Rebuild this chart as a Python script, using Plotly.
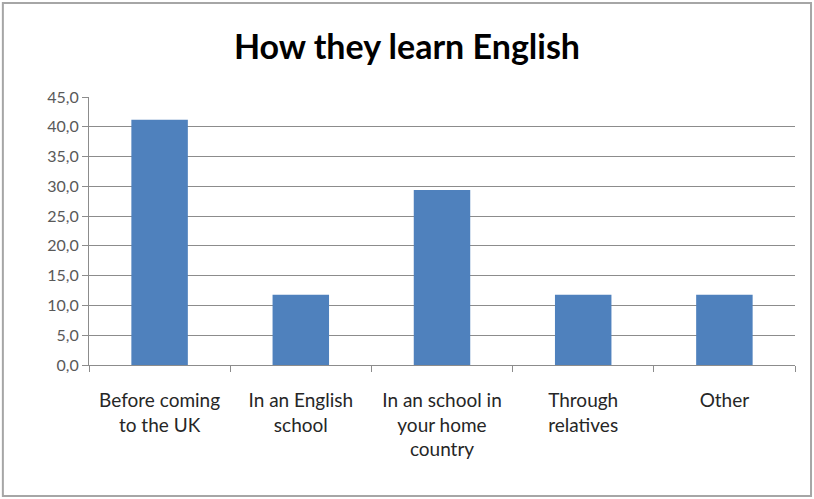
import plotly.graph_objects as go

# Survey results: share of respondents (%) by how they learn English
categories = [
    "Before coming<br>to the UK",
    "In an English<br>school",
    "In an school in<br>your home<br>country",
    "Through<br>relatives",
    "Other",
]
percentages = [41.2, 11.8, 29.4, 11.8, 11.8]
y_ticks = [0, 5, 10, 15, 20, 25, 30, 35, 40, 45]

bar_color = "#4F81BD"
grid_color = "#8C8C8C"
font_family = "Lato, 'Open Sans', sans-serif"

fig = go.Figure(
    go.Bar(
        x=categories,
        y=percentages,
        marker=dict(color=bar_color, line=dict(width=0)),
        hoverinfo="x+y",
    )
)

fig.update_layout(
    width=814,
    height=499,
    margin=dict(l=89, r=19, t=97, b=134),
    paper_bgcolor="white",
    plot_bgcolor="white",
    separators=", ",
    bargap=0.6,
    showlegend=False,
    title=dict(
        text="<b>How they learn English</b>",
        x=0.5,
        xanchor="center",
        y=0.905,
        yanchor="middle",
        font=dict(family=font_family, size=34, color="#000000"),
    ),
    font=dict(family=font_family),
    shapes=[
        dict(
            type="rect",
            xref="paper", yref="paper",
            x0=-0.122, x1=1.0227, y0=-0.489, y1=1.351,
            line=dict(color="#A6A6A6", width=2),
            fillcolor="rgba(0,0,0,0)",
            layer="below",
        )
    ],
)

fig.update_xaxes(
    type="category",
    showline=True,
    linecolor=grid_color,
    linewidth=1,
    ticks="outside",
    tickson="boundaries",
    ticklen=6,
    tickcolor=grid_color,
    ticklabelstandoff=18,
    tickfont=dict(family=font_family, size=19, color="#262626"),
    showgrid=False,
)

fig.update_yaxes(
    range=[0, 45],
    tickvals=y_ticks,
    tickformat=".1f",
    showline=True,
    linecolor=grid_color,
    linewidth=1,
    ticks="outside",
    ticklen=6,
    tickcolor=grid_color,
    showgrid=True,
    gridcolor=grid_color,
    gridwidth=1,
    zeroline=False,
    tickfont=dict(family=font_family, size=16, color="#595959"),
)

fig.write_html("out.html")
